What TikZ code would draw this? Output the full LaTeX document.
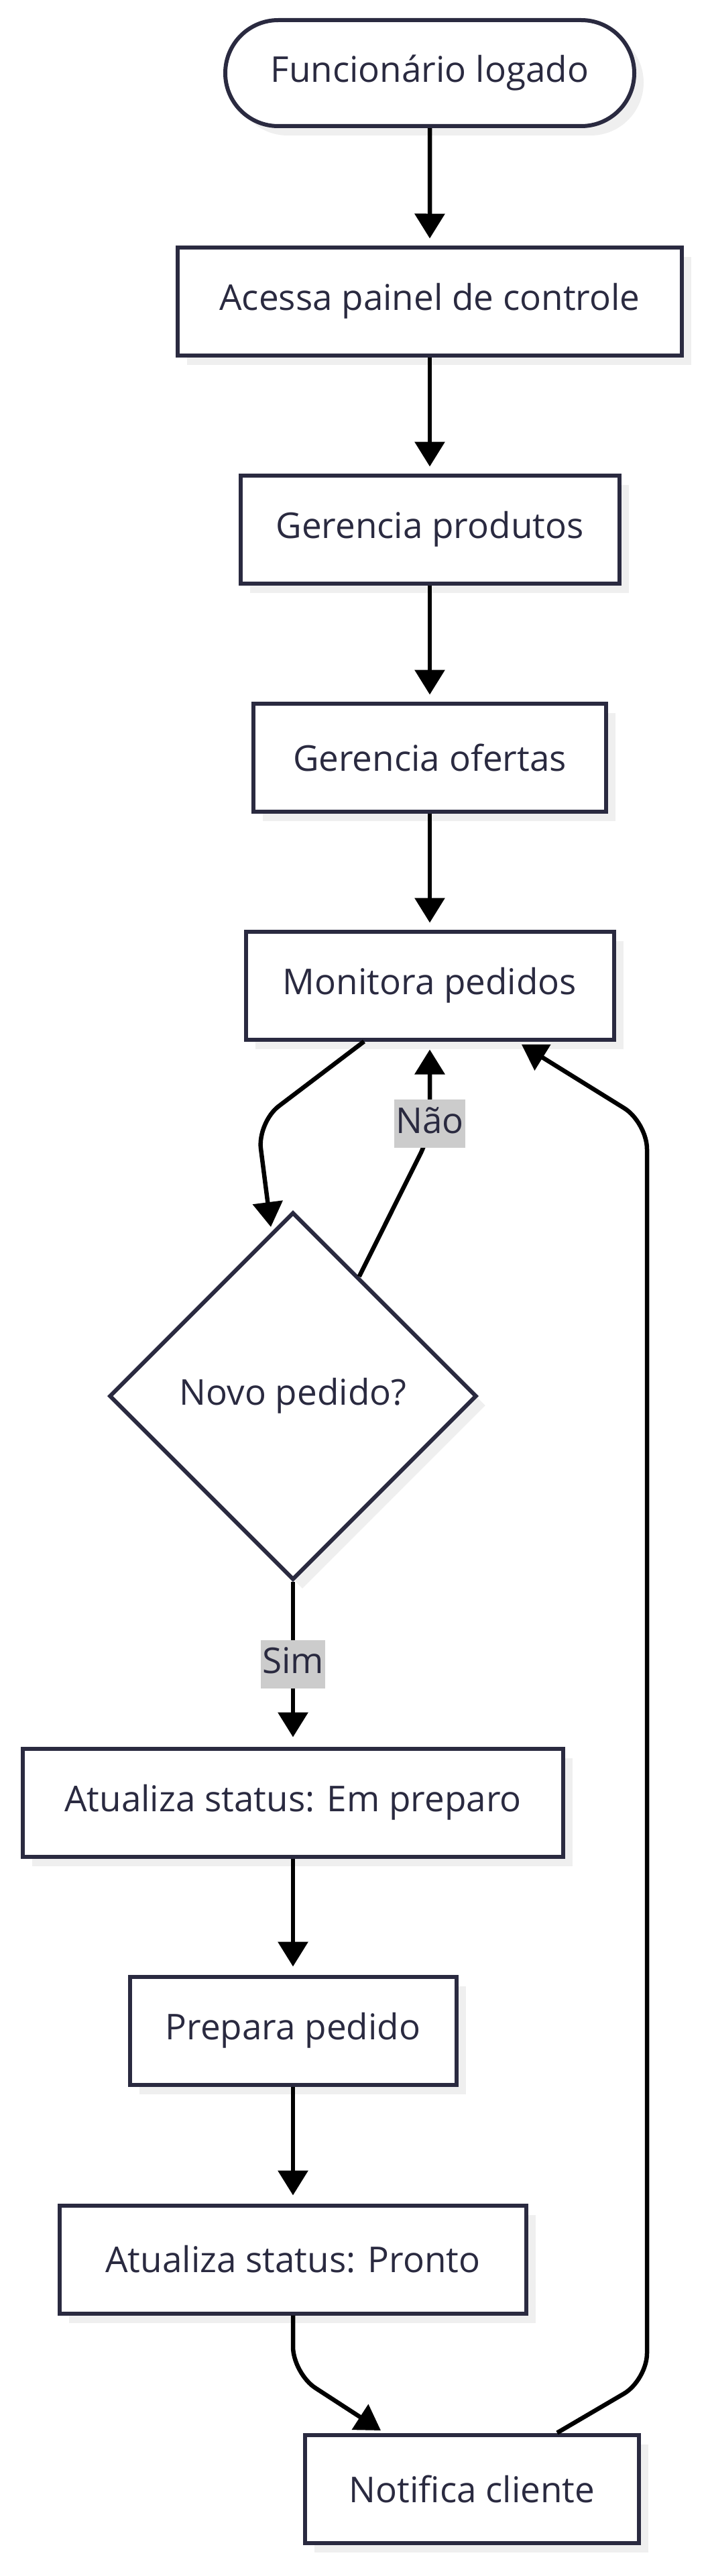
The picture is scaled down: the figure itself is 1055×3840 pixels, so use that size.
\documentclass[tikz,border=0pt]{standalone}
\usepackage{fontspec}
\setmainfont{Open Sans}
\usepackage{tikz}
\usetikzlibrary{arrows.meta,calc,shapes.geometric,shapes.misc,shadows}
\definecolor{ink}{HTML}{2A2A40}
\definecolor{shade}{HTML}{EFEFEF}
\definecolor{lblbg}{HTML}{CCCCCC}

\begin{document}
\begin{tikzpicture}[x=1pt,y=-1pt,
    base/.style={draw=ink, line width=6pt, fill=white, text=ink, inner sep=0pt,
      font=\fontsize{53}{63}\selectfont,
      drop shadow={shadow xshift=14pt, shadow yshift=-14pt, fill=shade, opacity=1}},
    box/.style={base, rectangle, minimum height=161pt},
    term/.style={base, rounded rectangle, minimum height=158pt},
    dec/.style={base, diamond, aspect=1, minimum width=548pt, minimum height=548pt},
    edge/.style={draw=black, line width=6.5pt, -{Triangle[length=37pt,width=44pt]}},
    lbl/.style={sharp corners, fill=lblbg, text=ink, inner xsep=2pt, inner ysep=0pt,
      text height=50pt, text depth=22pt, font=\fontsize{53}{63}\selectfont}]
    \useasboundingbox (0,0) rectangle (1055,3840);

    \node[term, minimum width=610pt] (F) at (641,109) {Funcionário logado};
    \node[box, minimum width=752pt] (A1) at (641,449) {Acessa painel de controle};
    \node[box, minimum width=565pt] (G1) at (641,789) {Gerencia produtos};
    \node[box, minimum width=526pt] (G2) at (641,1129) {Gerencia ofertas};
    \node[box, minimum width=549pt] (M) at (641,1469) {Monitora pedidos};
    \node[dec] (D) at (437,2081) {Novo pedido?};
    \node[box, minimum width=806pt] (E1) at (437,2687) {Atualiza status: Em preparo};
    \node[box, minimum width=487pt] (P) at (437,3027) {Prepara pedido};
    \node[box, minimum width=696pt] (E2) at (437,3368) {Atualiza status: Pronto};
    \node[box, minimum width=498pt] (N) at (704,3710) {Notifica cliente};

    \coordinate (B1) at (384,1673);
    \coordinate (T1) at (404,1829);
    \coordinate (B2) at (641,1692);
    \coordinate (B3) at (437,3538);
    \coordinate (T3) at (568,3623);
    \coordinate (B4) at (965,3548);
    \coordinate (B5) at (965,1673);
    \coordinate (T4) at (778,1557);

    \draw[edge, shorten >=10pt] (F) -- (A1);
    \draw[edge, shorten >=10pt] (A1) -- (G1);
    \draw[edge, shorten >=10pt] (G1) -- (G2);
    \draw[edge, shorten >=10pt] (G2) -- (M);
    \draw[edge, rounded corners=40pt] ($(M.south)+(-98,0)$) -- (B1) -- (T1);
    \draw[edge, rounded corners=30pt, shorten >=12pt] (D.61) -- (B2) -- node[lbl, pos=.12] (L1) {Não} (M.south);
    \draw[edge, shorten >=14pt] (D) -- node[lbl] (L2) {Sim} (E1);
    \draw[edge, shorten >=12pt] (E1) -- (P);
    \draw[edge, shorten >=12pt] (P) -- (E2);
    \draw[edge, rounded corners=40pt] (E2) -- (B3) -- (T3);
    \draw[edge, rounded corners=40pt] ($(N.north)+(127,0)$) -- (B4) -- (B5) -- (T4);
\end{tikzpicture}
\end{document}
